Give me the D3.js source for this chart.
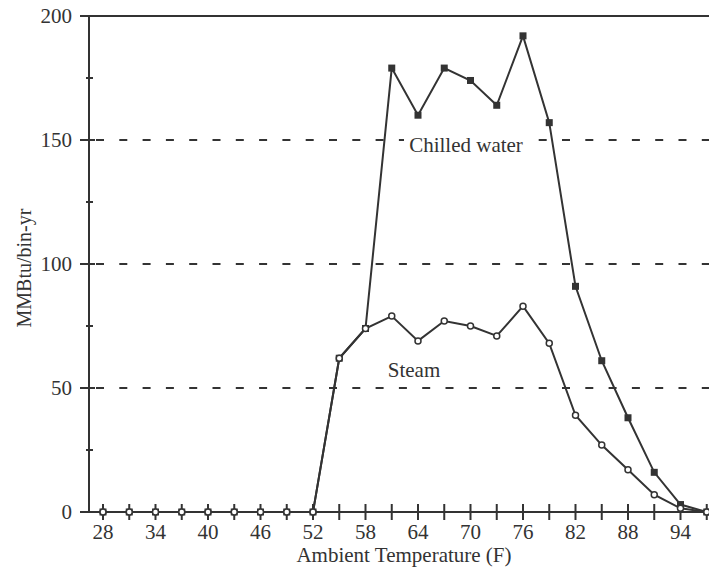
<!DOCTYPE html>
<html>
<head>
<meta charset="utf-8">
<script src="https://cdn.jsdelivr.net/npm/d3@7"></script>
<style>
  html, body { margin: 0; padding: 0; background: #fff; }
  svg { display: block; }
</style>
</head>
<body>
<svg id="chart" width="709" height="573"></svg>
<script>
// Ambient temperature bins (F)
const temps = [28, 31, 34, 37, 40, 43, 46, 49, 52, 55, 58, 61, 64, 67, 70, 73, 76, 79, 82, 85, 88, 91, 94, 97];
// Annual energy per bin, MMBtu/bin-yr
const chilledWater = [0, 0, 0, 0, 0, 0, 0, 0, 0, 62, 74, 179, 160, 179, 174, 164, 192, 157, 91, 61, 38, 16, 3, 0];
const steam        = [0, 0, 0, 0, 0, 0, 0, 0, 0, 62, 74, 79, 69, 77, 75, 71, 83, 68, 39, 27, 17, 7, 1.5, 0];
const xTickLabels = [28, 34, 40, 46, 52, 58, 64, 70, 76, 82, 88, 94];
const yTicks = [0, 50, 100, 150, 200];
const yMinorTicks = [25, 75, 125, 175];
const gridValues = [50, 100, 150];

const W = 709, H = 573;
const plotLeft = 89, plotTop = 16, plotBottom = 512;
const ink = "#333";
const serif = "'Liberation Serif', 'DejaVu Serif', serif";

const svg = d3.select("#chart")
  .attr("font-family", serif)
  .style("font-family", serif);

const x = d3.scaleLinear().domain([28, 97]).range([103, 706.75]);
const y = d3.scaleLinear().domain([0, 200]).range([plotBottom, plotTop]);

// dashed reference lines
svg.append("g").selectAll("line").data(gridValues).join("line")
  .attr("x1", plotLeft + 7).attr("x2", W)
  .attr("y1", d => y(d)).attr("y2", d => y(d))
  .attr("stroke", ink).attr("stroke-width", 2)
  .attr("stroke-dasharray", "8,15.3");

// top frame line
svg.append("line")
  .attr("x1", plotLeft).attr("x2", W).attr("y1", y(200)).attr("y2", y(200))
  .attr("stroke", ink).attr("stroke-width", 2);

// y axis
svg.append("line")
  .attr("x1", plotLeft).attr("x2", plotLeft).attr("y1", y(0)).attr("y2", y(200))
  .attr("stroke", ink).attr("stroke-width", 2);
svg.append("g").selectAll("line").data(yTicks).join("line")
  .attr("x1", plotLeft - 9).attr("x2", plotLeft + 6)
  .attr("y1", d => y(d)).attr("y2", d => y(d))
  .attr("stroke", ink).attr("stroke-width", 2);
svg.append("g").selectAll("line").data(yMinorTicks).join("line")
  .attr("x1", plotLeft - 3).attr("x2", plotLeft + 4)
  .attr("y1", d => y(d)).attr("y2", d => y(d))
  .attr("stroke", ink).attr("stroke-width", 2);
svg.append("g").selectAll("text").data(yTicks).join("text")
  .attr("x", 72).attr("y", d => y(d)).attr("dy", "0.35em")
  .attr("text-anchor", "end").attr("font-size", 21).attr("fill", ink)
  .text(d => d);

// x axis
svg.append("line")
  .attr("x1", plotLeft).attr("x2", W).attr("y1", y(0)).attr("y2", y(0))
  .attr("stroke", ink).attr("stroke-width", 2);
svg.append("g").selectAll("line").data(temps).join("line")
  .attr("x1", d => x(d)).attr("x2", d => x(d))
  .attr("y1", y(0) - 8).attr("y2", y(0) + 8)
  .attr("stroke", ink).attr("stroke-width", 2);
svg.append("g").selectAll("text").data(xTickLabels).join("text")
  .attr("x", d => x(d)).attr("y", 539)
  .attr("text-anchor", "middle").attr("font-size", 21).attr("fill", ink)
  .text(d => d);

// axis titles
svg.append("text")
  .attr("x", 404).attr("y", 562)
  .attr("text-anchor", "middle").attr("font-size", 21).attr("fill", ink)
  .text("Ambient Temperature (F)");
svg.append("text")
  .attr("transform", "translate(31,268) rotate(-90)")
  .attr("text-anchor", "middle").attr("font-size", 20).attr("fill", ink)
  .text("MMBtu/bin-yr");

const line = d3.line().x(d => x(d[0])).y(d => y(d[1]));
const cw = temps.map((t, i) => [t, chilledWater[i]]);
const st = temps.map((t, i) => [t, steam[i]]);

// chilled water series: filled squares
svg.append("path").datum(cw).attr("d", line)
  .attr("fill", "none").attr("stroke", ink).attr("stroke-width", 2);
svg.append("g").selectAll("rect").data(cw).join("rect")
  .attr("x", d => x(d[0]) - 3.5).attr("y", d => y(d[1]) - 3.5)
  .attr("width", 7).attr("height", 7).attr("fill", ink);

// steam series: open circles
svg.append("path").datum(st).attr("d", line)
  .attr("fill", "none").attr("stroke", ink).attr("stroke-width", 2);
svg.append("g").selectAll("circle").data(st).join("circle")
  .attr("cx", d => x(d[0])).attr("cy", d => y(d[1])).attr("r", 3)
  .attr("fill", "#fff").attr("stroke", ink).attr("stroke-width", 1.5);

// series labels
const cwLabel = svg.append("g");
cwLabel.append("rect").attr("x", 404).attr("y", 134).attr("width", 124).attr("height", 20).attr("fill", "#fff");
cwLabel.append("text").attr("x", 466).attr("y", 152)
  .attr("text-anchor", "middle").attr("font-size", 21).attr("fill", ink).text("Chilled water");
svg.append("text").attr("x", 414).attr("y", 377)
  .attr("text-anchor", "middle").attr("font-size", 21).attr("fill", ink).text("Steam");
</script>
</body>
</html>
